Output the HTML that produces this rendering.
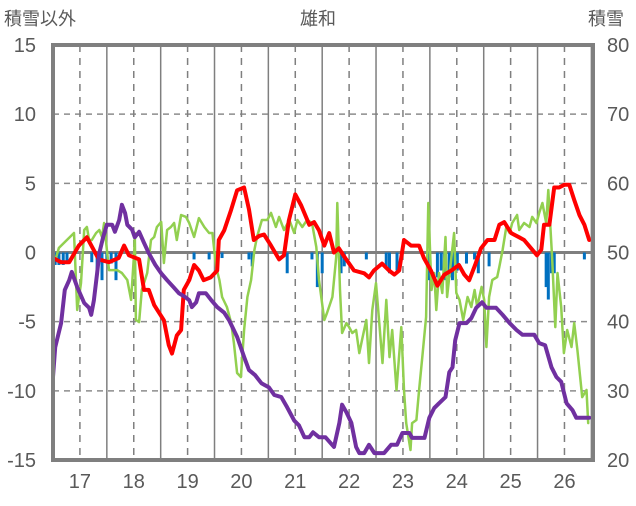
<!DOCTYPE html>
<html><head><meta charset="utf-8">
<style>
html,body{margin:0;padding:0;background:#fff;}
body{width:636px;height:501px;overflow:hidden;font-family:"Liberation Sans","Noto Sans CJK JP",sans-serif;}
svg text{font-family:"Liberation Sans","Noto Sans CJK JP",sans-serif;fill:#595959;}
</style></head>
<body>
<svg id="chart" width="636" height="501" viewBox="0 0 636 501" xmlns="http://www.w3.org/2000/svg">
<text x="4" y="25" font-size="18">積雪以外</text>
<text x="318" y="25" font-size="18" text-anchor="middle">雄和</text>
<text x="588" y="25" font-size="18">積雪</text>
<g id="grid"></g>
<g id="bars"></g>
<g id="lines"></g>
<g id="axes"></g>
</svg>
<script>
const leftTicks=[15,10,5,0,-5,-10,-15];
const rightTicks=[80,70,60,50,40,30,20];
const yearLabels=[17,18,19,20,21,22,23,24,25,26];

const barDates=[16.54,16.61,16.69,16.76,17.22,17.32,17.41,17.50,17.58,17.67,19.12,19.40,19.64,20.14,20.20,20.85,21.31,21.41,21.50,21.85,21.91,22.32,22.69,22.75,22.89,23.49,23.64,23.71,23.77,23.86,23.92,24.01,24.18,24.33,24.40,24.60,25.66,25.70,25.76,25.81,26.37];
const barValues=[-0.9,-0.9,-0.9,-0.7,-0.7,-1.5,-2.0,-0.7,-0.8,-2.0,-0.5,-0.5,-0.4,-0.5,-1.0,-1.5,-0.5,-2.5,-1.5,-1.5,-1.0,-0.5,-1.0,-1.5,-1.3,-2.0,-1.8,-1.3,-2.0,-1.8,-2.0,-1.3,-0.8,-0.5,-1.5,-1.0,-2.5,-3.4,-1.5,-1.5,-0.5];

const greenDates=[16.56,16.61,16.89,16.95,17.02,17.08,17.13,17.17,17.22,17.30,17.36,17.41,17.45,17.54,17.69,17.78,17.88,17.95,18.01,18.02,18.04,18.10,18.15,18.25,18.32,18.38,18.43,18.51,18.56,18.62,18.69,18.75,18.80,18.88,18.97,19.03,19.12,19.21,19.31,19.40,19.46,19.53,19.59,19.64,19.73,19.81,19.86,19.92,19.99,20.05,20.11,20.18,20.24,20.29,20.38,20.48,20.55,20.64,20.70,20.79,20.89,20.98,21.04,21.13,21.22,21.31,21.39,21.44,21.54,21.59,21.69,21.76,21.78,21.83,21.87,21.95,22.00,22.06,22.13,22.19,22.24,22.32,22.37,22.43,22.50,22.56,22.62,22.69,22.75,22.80,22.88,22.97,23.02,23.06,23.14,23.17,23.25,23.30,23.36,23.43,23.47,23.53,23.58,23.62,23.67,23.73,23.79,23.82,23.90,23.95,23.99,24.05,24.12,24.20,24.27,24.33,24.38,24.46,24.51,24.55,24.60,24.66,24.75,24.79,24.85,24.92,24.98,25.03,25.12,25.16,25.25,25.35,25.40,25.48,25.53,25.59,25.66,25.70,25.77,25.83,25.87,25.94,25.99,26.05,26.13,26.18,26.24,26.33,26.41,26.44];
const greenValues=[-0.33,0.33,1.41,-4.16,-2.21,1.63,1.84,0.90,0.90,1.41,1.63,1.12,2.13,-1.27,-1.27,-1.48,-1.99,-3.43,0.18,1.41,-4.88,-5.03,-2.71,-1.48,0.90,1.12,1.84,2.21,-0.76,1.63,1.84,2.13,0.90,2.71,2.57,2.13,1.12,2.49,1.84,1.41,1.41,-1.05,-1.99,-3.22,-3.94,-5.10,-6.54,-8.71,-9.00,-5.60,-3.22,-1.99,0.18,1.12,2.35,2.35,2.86,1.84,2.57,1.63,2.35,1.41,2.35,1.84,2.35,2.13,0.40,-1.99,-4.88,-4.37,-3.22,-0.33,3.58,-2.71,-5.82,-5.10,-5.39,-5.82,-5.60,-7.27,-6.33,-4.88,-7.99,-4.16,-2.21,-5.10,-7.99,-3.43,-7.56,-5.60,-9.94,-5.39,-9.94,-12.33,-14.28,-12.33,-12.11,-9.94,-7.56,-4.66,3.58,-2.71,-1.48,-4.16,-1.48,-2.93,1.12,-3.22,-0.33,1.41,-2.93,-3.43,-4.88,-3.22,-3.94,-2.71,-3.94,-2.49,-3.43,-6.83,-3.22,-1.99,-1.77,-1.05,0.18,1.84,1.41,2.13,2.71,1.63,2.13,1.84,2.57,2.13,2.86,3.58,2.13,4.52,-0.33,-5.39,-1.48,-3.94,-7.27,-5.60,-6.83,-5.10,-7.05,-10.45,-9.94,-12.33];

const redDates=[16.50,16.65,16.80,16.98,17.13,17.35,17.54,17.72,17.82,17.91,18.10,18.19,18.28,18.38,18.56,18.65,18.71,18.80,18.88,18.93,19.03,19.12,19.21,19.30,19.43,19.55,19.58,19.68,19.81,19.92,20.05,20.14,20.23,20.33,20.42,20.55,20.70,20.79,20.88,21.00,21.11,21.26,21.35,21.44,21.54,21.63,21.72,21.81,21.91,22.09,22.28,22.37,22.46,22.61,22.74,22.84,22.93,23.02,23.15,23.30,23.39,23.52,23.64,23.77,23.90,24.04,24.14,24.23,24.34,24.45,24.57,24.70,24.79,24.88,25.01,25.16,25.25,25.38,25.49,25.57,25.62,25.72,25.81,25.90,26.00,26.09,26.18,26.28,26.37,26.46];
const redValues=[-0.4,-0.7,-0.7,0.5,1.1,-0.5,-0.7,-0.4,0.5,-0.2,-0.5,-2.7,-2.7,-3.8,-4.9,-6.7,-7.3,-6.0,-5.6,-2.7,-2.0,-0.9,-1.3,-2.0,-1.8,-1.3,0.9,1.6,3.1,4.5,4.7,3.1,0.9,1.2,1.3,0.5,-0.5,-0.2,2.3,4.2,3.4,2.0,2.2,1.6,0.5,1.4,0.0,0.3,-0.3,-1.3,-1.5,-1.8,-1.3,-0.8,-1.3,-1.6,-1.3,0.9,0.5,0.5,-0.4,-1.3,-2.4,-1.6,-1.3,-0.9,-1.6,-2.0,-0.9,0.3,0.9,0.9,2.0,2.2,1.4,1.1,0.9,0.3,-0.2,0.2,2.0,2.0,4.7,4.7,4.9,4.9,3.8,2.7,2.0,0.9];

const snowDates=[16.50,16.54,16.65,16.72,16.80,16.85,16.95,17.08,17.17,17.21,17.26,17.32,17.36,17.43,17.50,17.60,17.65,17.73,17.78,17.84,17.88,17.97,18.02,18.10,18.19,18.28,18.40,18.51,18.62,18.75,18.84,18.95,19.03,19.08,19.16,19.21,19.34,19.44,19.55,19.68,19.77,19.92,20.05,20.14,20.25,20.37,20.51,20.61,20.74,20.85,20.98,21.07,21.17,21.26,21.33,21.44,21.56,21.72,21.82,21.87,21.95,22.04,22.13,22.19,22.28,22.37,22.47,22.65,22.78,22.89,22.99,23.12,23.17,23.40,23.49,23.58,23.67,23.79,23.86,23.92,23.97,24.05,24.18,24.27,24.36,24.47,24.55,24.73,24.85,24.98,25.11,25.22,25.44,25.53,25.64,25.76,25.85,25.94,26.04,26.15,26.22,26.46];
const snowValues=[32.0,36.3,39.8,44.6,46.0,47.2,45.0,42.7,42.0,41.0,43.1,47.0,49.9,52.2,54.0,54.0,53.0,54.7,56.9,55.7,54.0,53.3,52.2,53.0,51.4,49.9,48.2,47.0,46.0,44.9,44.1,43.6,43.1,42.1,42.8,44.1,44.1,43.1,42.1,41.3,40.2,37.8,34.9,33.0,32.3,31.1,30.5,29.4,29.1,27.6,25.7,25.0,23.3,23.3,24.0,23.3,23.3,21.9,25.4,28.0,26.9,25.4,21.9,21.0,21.0,22.2,21.0,21.0,22.2,22.2,23.9,23.9,23.2,23.2,26.1,27.5,28.2,29.1,32.7,33.4,37.3,39.8,39.8,40.5,42.0,42.8,42.0,42.0,41.0,39.8,38.8,38.1,38.1,36.9,36.6,33.4,32.0,31.3,28.2,27.2,26.1,26.1];

const NS='http://www.w3.org/2000/svg';
const PL=53,PR=593,PT=45,PB=460;
const T0=16.5,T1=26.53;
function xS(t){return PL+(t-T0)/(T1-T0)*(PR-PL);}
function yL(v){return PT+(15-v)/30*(PB-PT);}
function yR(v){return PT+(80-v)/60*(PB-PT);}
function mk(tag,attrs,parent){const e=document.createElementNS(NS,tag);for(const k in attrs)e.setAttribute(k,attrs[k]);parent.appendChild(e);return e;}

const grid=document.getElementById('grid');
leftTicks.forEach(v=>{
  if(v===15||v===-15||v===0)return;
  const l=mk('line',{x1:PL,x2:PR,y1:yL(v),y2:yL(v),stroke:'#8c8c8c','stroke-width':1.5,'stroke-dasharray':'6,5'},grid);
  
  
});
for(let y=17;y<=26;y++){
  const d=mk('line',{x1:xS(y),x2:xS(y),y1:PT,y2:PB,stroke:'#7f7f7f','stroke-width':1.5,'stroke-dasharray':'7,6'},grid);
  
  
  if(y<26 || xS(y+0.5)<PR){
    const s=mk('line',{x1:xS(y+0.5),x2:xS(y+0.5),y1:PT,y2:PB,stroke:'#7f7f7f','stroke-width':1.5},grid);
    
    
  }
}
const zl=mk('line',{x1:PL,x2:PR,y1:yL(0),y2:yL(0),stroke:'#7f7f7f','stroke-width':3},grid);



const bars=document.getElementById('bars');
barDates.forEach((t,i)=>{
  const v=barValues[i];
  const y0=yL(0),y1=yL(v);
  const r=mk('rect',{x:xS(t)-1.5,y:Math.min(y0,y1),width:3,height:Math.abs(y1-y0),fill:'#0070C0'},bars);
  
  
});

const lines=document.getElementById('lines');
function path(dates,vals,ys,color,w,name){
  const d=dates.map((t,i)=>(i?'L':'M')+xS(t).toFixed(1)+','+ys(vals[i]).toFixed(1)).join('');
  const p=mk('path',{d:d,fill:'none',stroke:color,'stroke-width':w,'stroke-linejoin':'round','stroke-linecap':'round'},lines);
  
  
}
path(greenDates,greenValues,yL,'#92D050',2.5,'green-series-line');
path(redDates,redValues,yL,'#FF0000',4,'red-series-line');
path(snowDates,snowValues,yR,'#7030A0',4,'snow-depth-line');

const axes=document.getElementById('axes');
const fr=mk('rect',{x:PL,y:PT,width:PR-PL,height:PB-PT,fill:'none',stroke:'#7f7f7f','stroke-width':4},axes);


leftTicks.forEach(v=>{
  const t=mk('text',{x:36,y:yL(v)+7,'font-size':20,'text-anchor':'end'},axes);
  t.textContent=v;
  
  
});
rightTicks.forEach(v=>{
  const t=mk('text',{x:607,y:yR(v)+7,'font-size':20},axes);
  t.textContent=v;
  
  
});
yearLabels.forEach(v=>{
  const t=mk('text',{x:xS(v),y:488,'font-size':20,'text-anchor':'middle'},axes);
  t.textContent=v;
  
  
});
</script>
</body></html>
